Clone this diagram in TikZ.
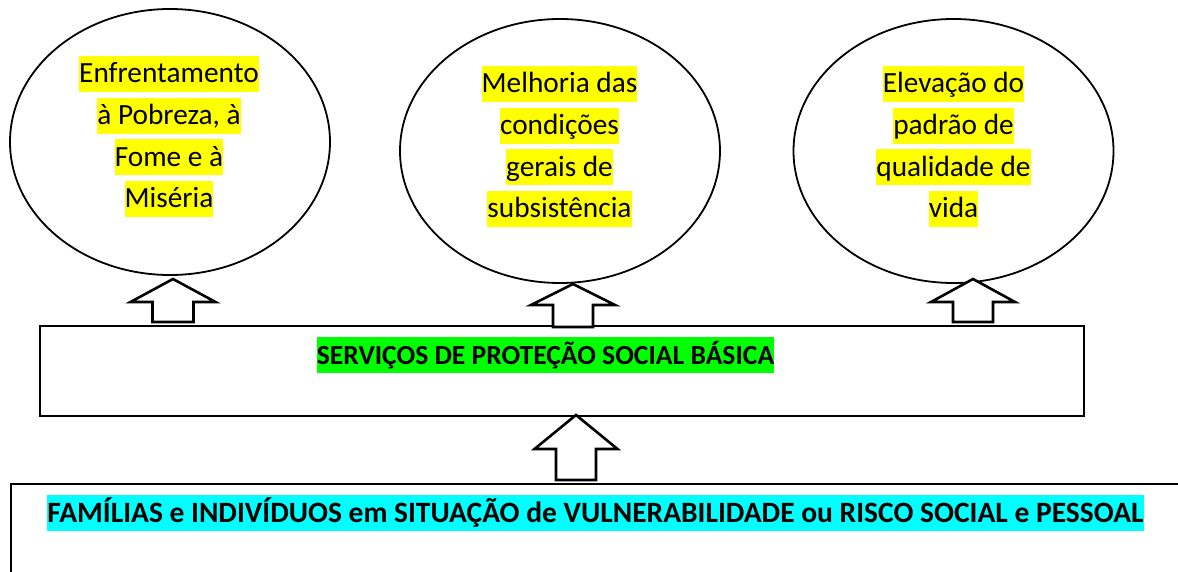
\documentclass[tikz,border=0pt]{standalone}
\usepackage{fontspec}
\setmainfont{Carlito}
\usetikzlibrary{shapes.geometric}
\definecolor{hlyellow}{RGB}{255,255,0}
\definecolor{hlgreen}{RGB}{0,255,0}
\definecolor{hlcyan}{RGB}{0,255,255}
\tikzset{
  goal/.style={draw, line width=1.8pt, ellipse, inner sep=0pt, minimum width=320pt},
  frame/.style={draw, line width=2pt, inner sep=0pt},
  hl/.style={fill=hlyellow, inner xsep=0pt, inner ysep=0pt, text height=27pt, text depth=9pt,
             font=\fontsize{29.3}{36}\selectfont},
  hlbold/.style={inner xsep=0pt, inner ysep=0pt, text height=27pt, text depth=9pt},
  arrowline/.style={draw, fill=white, line width=2.6pt, line join=miter},
  pics/blockarrow/.style n args={4}{code={
    \path[arrowline] (0,0) -- (-#1,#3) -- (-#2,#3) -- (-#2,#4) -- (#2,#4) -- (#2,#3) -- (#1,#3) -- cycle;}}
}
\begin{document}
\begin{tikzpicture}[x=1pt,y=-1pt]
\useasboundingbox (0,0) rectangle (1178,572);
\fill[white] (0,0) rectangle (1178,572);
\clip (0,0) rectangle (1178,572);
% goal ellipses
\node[goal, minimum height=266pt] (e1) at (170,142) {};
\node[goal, minimum height=264pt] (e2) at (560,151) {};
\node[goal, minimum height=264pt] (e3) at (953.5,151) {};
% texts in ellipses
\node[hl] (e1a) at (169,74) {Enfrentamento};
\node[hl] (e1b) at (169,115.7) {à Pobreza, à};
\node[hl] (e1c) at (169,157.3) {Fome e à};
\node[hl] (e1d) at (169,199) {Miséria};
\node[hl] (e2a) at (559.5,84) {Melhoria das};
\node[hl] (e2b) at (559.5,125.7) {condições};
\node[hl] (e2c) at (559.5,167.3) {gerais de};
\node[hl] (e2d) at (559.5,209) {subsistência};
\node[hl] (e3a) at (953.5,84) {Elevação do};
\node[hl] (e3b) at (953.5,125.7) {padrão de};
\node[hl] (e3c) at (953.5,167.3) {qualidade de};
\node[hl] (e3d) at (953.5,209) {vida};
% services box
\node[frame, minimum width=1044pt, minimum height=90pt] (serv) at (562,371) {};
\node[hlbold, fill=hlgreen, font=\fontsize{27.6}{36}\selectfont\bfseries] (servt) at (545.5,355) {SERVIÇOS DE PROTEÇÃO SOCIAL BÁSICA};
% families box
\node[frame, minimum width=1180pt, minimum height=136pt] (fam) at (601,552) {};
\node[hlbold, fill=hlcyan, font=\fontsize{29.5}{36}\selectfont\bfseries] (famt) at (595.5,513) {FAMÍLIAS e INDIVÍDUOS em SITUAÇÃO de VULNERABILIDADE ou RISCO SOCIAL e PESSOAL};
% block arrows
\coordinate (a1) at (173,279);
\coordinate (a2) at (573,284);
\coordinate (a3) at (973,279);
\coordinate (a4) at (576,415);
\pic at (a1) {blockarrow={42.5}{20.5}{23}{43}};
\pic at (a2) {blockarrow={42}{20}{21}{43}};
\pic at (a3) {blockarrow={42}{20}{23}{43}};
\pic at (a4) {blockarrow={41.5}{20}{34}{65}};
\end{tikzpicture}
\end{document}
